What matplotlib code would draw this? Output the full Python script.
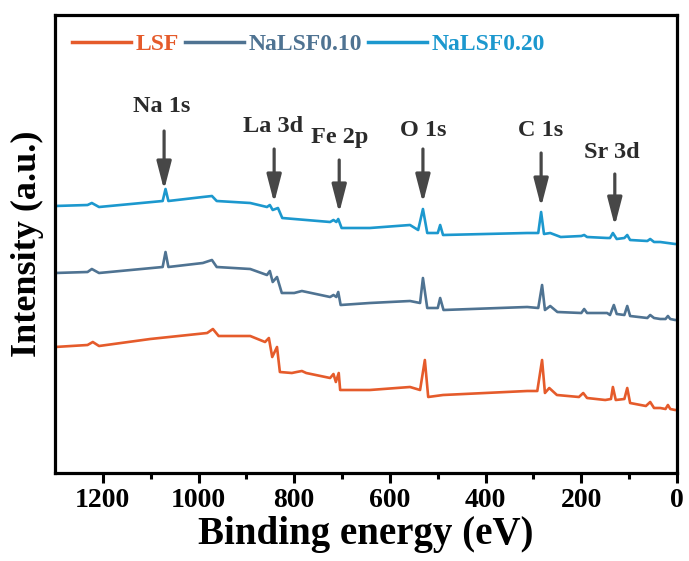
import matplotlib
matplotlib.use("Agg")
import matplotlib.pyplot as plt

# (binding energy in eV, intensity in a.u.)
lsf_e = [1300, 1232, 1221, 1208, 1101, 982, 970, 958, 892, 861, 853, 846, 836, 830,
         805, 795, 784, 775, 725, 718, 713, 707, 704, 642, 558, 537, 527, 520, 489,
         313, 292, 282, 276, 267, 251, 205, 196, 188, 150, 138, 134, 128, 110, 104,
         98, 65, 56, 48, 35, 24, 19, 14, 4, 0]
lsf_i = [126, 128, 131, 127, 134, 140, 144, 137, 137, 131, 135, 116, 126, 101,
         100, 101, 102, 100, 95, 99, 91, 100, 83, 83, 86, 83, 113, 76, 78,
         82, 82, 113, 80, 85, 78, 76, 80, 75, 73, 74, 86, 73, 74, 85,
         70, 67, 71, 65, 65, 64, 68, 64, 63, 63]

na10_e = [1300, 1232, 1223, 1208, 1075, 1069, 1063, 991, 972, 962, 892, 857, 851,
          845, 836, 826, 800, 784, 725, 718, 712, 708, 703, 642, 558, 537, 531,
          522, 500, 495, 488, 313, 290, 282, 276, 265, 250, 200, 194, 188, 146,
          140, 132, 126, 110, 104, 98, 62, 56, 48, 35, 24, 19, 14, 4, 0]
na10_i = [200, 201, 204, 200, 206, 221, 206, 210, 213, 206, 204, 198, 202,
          191, 196, 180, 180, 182, 176, 178, 176, 181, 168, 170, 172, 170, 195,
          165, 165, 175, 163, 166, 165, 188, 163, 167, 161, 160, 164, 160, 160,
          158, 168, 159, 158, 167, 157, 155, 158, 155, 154, 154, 157, 154, 153, 153]

na20_e = [1300, 1232, 1223, 1208, 1075, 1069, 1063, 991, 972, 962, 892, 857, 851,
          845, 834, 825, 725, 718, 712, 708, 701, 642, 558, 541, 531, 522, 500,
          495, 489, 313, 290, 284, 278, 265, 243, 200, 194, 188, 146, 140, 134,
          126, 110, 104, 98, 62, 56, 48, 35, 4, 0]
na20_i = [267, 268, 270, 266, 272, 284, 272, 276, 277, 272, 270, 266, 268,
          263, 265, 255, 251, 253, 251, 254, 245, 245, 248, 243, 264, 240, 240,
          248, 238, 240, 240, 261, 239, 240, 236, 237, 238, 236, 235, 235, 240,
          234, 235, 238, 233, 232, 234, 231, 231, 229, 229]

labels = ["LSF", "NaLSF0.10", "NaLSF0.20"]
colors = ["#E55B2B", "#4F7392", "#1C98CE"]

# peak markers: label, arrow x, arrow top, arrow tip, text x, text y
peak_names = ["Na 1s", "La 3d", "Fe 2p", "O 1s", "C 1s", "Sr 3d"]
peak_x = [1072, 842, 706, 531, 284, 130]
arrow_top = [342, 324, 313, 324, 320, 299]
arrow_tip = [283, 270, 260, 270, 266, 247]
text_x = [1077, 844, 704, 531, 286, 136]
text_y = [366, 346, 336, 343, 343, 321]

plt.rcParams["font.family"] = ["Liberation Serif", "DejaVu Serif"]
plt.rcParams["font.weight"] = "bold"

fig = plt.figure(figsize=(6.89, 5.61), dpi=100)
ax = fig.add_axes([55 / 689, 88 / 561, 622 / 689, 458 / 561])

for e, inten, lab, c in zip([lsf_e, na10_e, na20_e], [lsf_i, na10_i, na20_i], labels, colors):
    ax.plot(e, inten, color=c, lw=1.9, label=lab)

for name, x, top, tip, tx, ty in zip(peak_names, peak_x, arrow_top, arrow_tip, text_x, text_y):
    ax.annotate("", xy=(x, tip), xytext=(x, top),
                arrowprops=dict(arrowstyle="-|>,head_width=0.22,head_length=0.85",
                                mutation_scale=20, lw=2.3, color="#474747",
                                shrinkA=0, shrinkB=0))
    ax.text(tx, ty, name, ha="center", va="center", fontsize=17.5, fontweight="bold",
            color="#2b2b2b")

ax.set_xlim(1300, 0)
ax.set_ylim(0, 458)
ax.set_xticks([1200, 1000, 800, 600, 400, 200, 0])
ax.set_xticks([1100, 900, 700, 500, 300, 100], minor=True)
ax.set_yticks([])
ax.tick_params(axis="x", which="major", direction="out", length=7, width=2.2,
               labelsize=20, pad=4)
ax.tick_params(axis="x", which="minor", direction="out", length=4, width=2.2)
for sp in ax.spines.values():
    sp.set_linewidth(2.3)

ax.set_xlabel("Binding energy (eV)", fontsize=28, fontweight="bold", labelpad=2)
ax.set_ylabel("Intensity (a.u.)", fontsize=26, fontweight="bold", labelpad=8)

leg = ax.legend(loc="upper left", ncol=3, frameon=False, fontsize=17,
                handlelength=2.5, handletextpad=0.2, columnspacing=0.25,
                bbox_to_anchor=(0.0, 0.995), borderaxespad=0.3)
for txt, c in zip(leg.get_texts(), colors):
    txt.set_color(c)
for ln in leg.get_lines():
    ln.set_linewidth(2.5)

fig.savefig("out.png", dpi=100)
